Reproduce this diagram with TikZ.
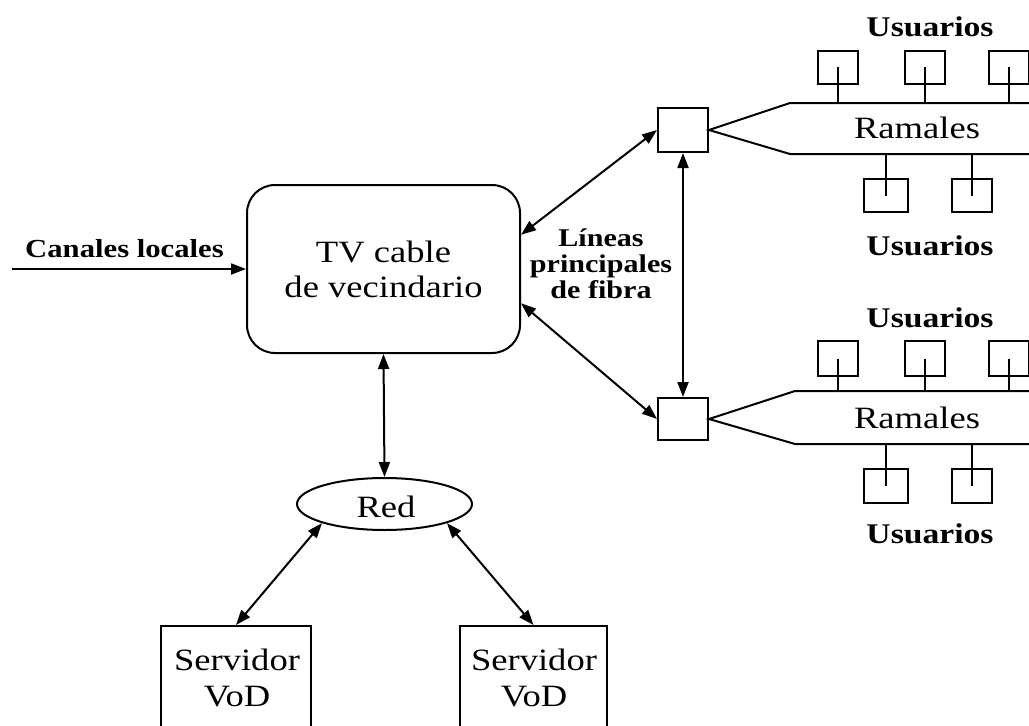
\documentclass[tikz,border=0pt]{standalone}
\usepackage{fontspec}
\setmainfont[FakeStretch=1.18]{Liberation Serif}
\usetikzlibrary{arrows.meta,shapes.geometric}
\begin{document}
\begin{tikzpicture}[x=1pt,y=-1pt,line width=2pt,
  tip/.tip={Triangle[length=15pt,width=11pt]},
  dbl/.style={tip-tip},
  arr/.style={-tip},
  box/.style={draw,rectangle,inner sep=0pt},
  ubox/.style={draw,rectangle,inner sep=0pt,minimum width=40pt,minimum height=33pt},
  big/.style={font=\fontsize{31}{35}\selectfont,align=center},
  bold/.style={font=\fontsize{28.5}{30}\selectfont\bfseries},
  boldmd/.style={font=\fontsize{26}{30}\selectfont\bfseries},
  boldsm/.style={font=\fontsize{25.5}{26}\selectfont\bfseries,align=center},
]
\clip (0,0) rectangle (1029,726);
\fill[white] (0,0) rectangle (1029,726);

% main box
\node[box,rounded corners=28pt,minimum width=273pt,minimum height=168pt,big] (tv) at (383.5,269) {TV cable\\de vecindario};
\node[boldmd,anchor=base] (canales) at (124.5,257) {Canales locales};
\coordinate (cin) at (12,269);
\draw[arr] (cin) -- (tv.west);

% red
\node[draw,ellipse,inner sep=0pt,minimum width=175pt,minimum height=52pt] (red) at (384.5,504) {};
\node[big,anchor=base] (redt) at (386,517) {Red};
\draw[dbl] (tv.south) -- (red.north);

% servers
\node[box,minimum width=150pt,minimum height=140pt,anchor=north] (s1) at (236,625) {};
\node[box,minimum width=147pt,minimum height=140pt,anchor=north] (s2) at (533.5,625) {};
\node[big,anchor=base] (s1t) at (237,670) {Servidor};
\node[big,anchor=base] (s1v) at (237,706) {VoD};
\node[big,anchor=base] (s2t) at (534,670) {Servidor};
\node[big,anchor=base] (s2v) at (534,706) {VoD};
\draw[dbl] (red.197) -- (s1.north);
\draw[dbl] (red.-17) -- (s2.north);

% fibre squares
\node[box,minimum width=50pt,minimum height=44pt] (q1) at (683,130) {};
\node[box,minimum width=50pt,minimum height=42pt] (q2) at (683,419) {};
\draw[dbl] (tv.14) -- (q1.west);
\draw[dbl] (tv.-14) -- (q2.west);
\draw[dbl] (q1.south) -- (q2.north);
\node[boldsm] (lineas) at (601,264) {Líneas\\principales\\de fibra};

% upper branch
\coordinate (a1) at (790,103);
\coordinate (a2) at (1040,103);
\coordinate (b1) at (790,154);
\coordinate (b2) at (1040,154);
\draw (a2) -- (a1) -- (q1.east) -- (b1) -- (b2);
\node[big,anchor=base] (ram1) at (917,138) {Ramales};
\node[ubox] (u11) at (838,67) {};
\node[ubox] (u12) at (924.5,67) {};
\node[ubox] (u13) at (1009,67) {};
\node[ubox,minimum width=44pt] (u14) at (886,195.5) {};
\node[ubox] (u15) at (972,195.5) {};
\foreach \u in {u11,u12,u13} \draw (\u.center) -- (\u |- a1);
\foreach \u in {u14,u15} \draw (\u.center) -- (\u |- b1);
\node[bold,anchor=base] (us1) at (930,36) {Usuarios};
\node[bold,anchor=base] (us2) at (930,255) {Usuarios};

% lower branch
\coordinate (c1) at (795,391);
\coordinate (c2) at (1040,391);
\coordinate (d1) at (795,444);
\coordinate (d2) at (1040,444);
\draw (c2) -- (c1) -- (q2.east) -- (d1) -- (d2);
\node[big,anchor=base] (ram2) at (917,428) {Ramales};
\node[ubox,minimum height=35pt] (u21) at (838,358.5) {};
\node[ubox,minimum height=35pt] (u22) at (924.5,358.5) {};
\node[ubox,minimum height=35pt] (u23) at (1009,358.5) {};
\node[ubox,minimum width=44pt,minimum height=34pt] (u24) at (886,486) {};
\node[ubox,minimum height=34pt] (u25) at (972,486) {};
\foreach \u in {u21,u22,u23} \draw (\u.center) -- (\u |- c1);
\foreach \u in {u24,u25} \draw (\u.center) -- (\u |- d1);
\node[bold,anchor=base] (us3) at (930,327) {Usuarios};
\node[bold,anchor=base] (us4) at (930,543) {Usuarios};
\end{tikzpicture}
\end{document}
